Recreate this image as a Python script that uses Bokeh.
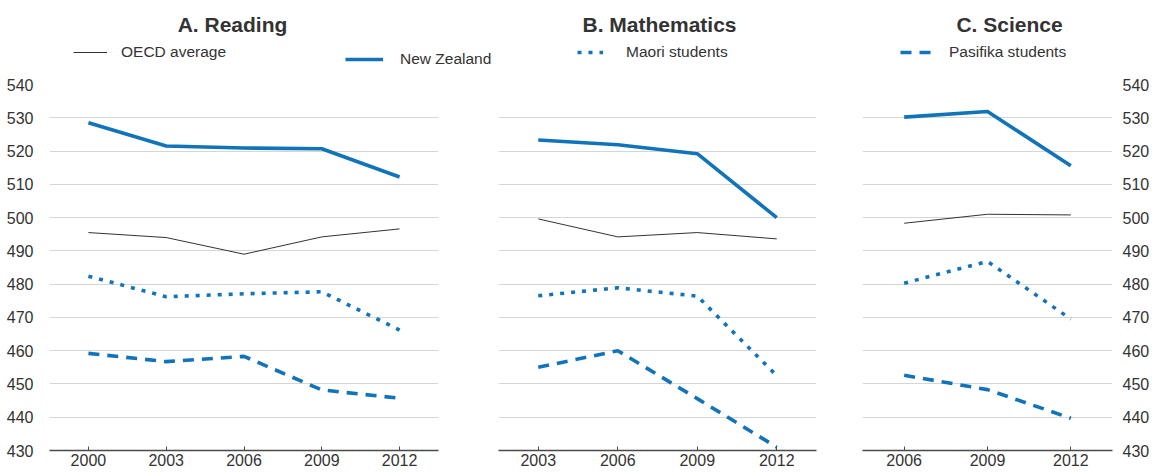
from bokeh.plotting import figure
from bokeh.layouts import row, column
from bokeh.models import Range1d, FixedTicker, Grid, Legend, LegendItem, Label
from bokeh.embed import file_html
from bokeh.resources import INLINE

# ---------------- data ----------------
titles = ["A. Reading", "B. Mathematics", "C. Science"]

years_reading = [2000, 2003, 2006, 2009, 2012]
oecd_reading = [495.5, 494.0, 489.0, 494.2, 496.6]
nz_reading = [528.5, 521.5, 520.9, 520.7, 512.2]
maori_reading = [482.4, 476.2, 477.1, 477.7, 466.2]
pasifika_reading = [459.2, 456.7, 458.3, 448.2, 445.7]

years_math = [2003, 2006, 2009, 2012]
oecd_math = [499.6, 494.2, 495.5, 493.6]
nz_math = [523.3, 521.9, 519.2, 500.0]
maori_math = [476.5, 478.9, 476.4, 452.5]
pasifika_math = [455.0, 460.0, 445.6, 431.0]

years_science = [2006, 2009, 2012]
oecd_science = [498.3, 501.0, 500.8]
nz_science = [530.2, 531.9, 515.6]
maori_science = [480.3, 486.8, 469.5]
pasifika_science = [452.6, 448.3, 439.7]

y_ticks = [430, 440, 450, 460, 470, 480, 490, 500, 510, 520, 530, 540]
legend_labels = ["OECD average", "New Zealand", "Maori students", "Pasifika students"]

# ---------------- style ----------------
FONT = "Liberation Sans"
BLUE = "#1174ba"
DARK = "#333333"
GRID = "#d6d6d6"
AXIS = "#4a4a4a"

STYLES = [
    dict(line_color=DARK, line_width=1),
    dict(line_color=BLUE, line_width=3.6, line_join="round"),
    dict(line_color=BLUE, line_width=3.6, line_dash="4 7", line_cap="butt"),
    dict(line_color=BLUE, line_width=3.6, line_dash="11 8", line_cap="butt"),
]

HEAD_H = 74
TOP, FH, BOTTOM = 10, 366, 22
TICK_FS = "16px"


def make_panel(years, series, left, fw, right, yloc):
    xr = Range1d(years[0] - 1.5, years[-1] + 1.5)
    p = figure(frame_width=fw, frame_height=FH, x_range=xr, y_range=Range1d(430, 540),
               output_backend="svg", toolbar_location=None,
               min_border_left=left, min_border_right=right,
               min_border_top=TOP, min_border_bottom=BOTTOM,
               y_axis_location=yloc, outline_line_color=None,
               background_fill_color="white", border_fill_color="white")
    for g in p.xgrid:
        g.visible = False
    for g in p.ygrid:
        g.visible = False
    p.add_layout(Grid(dimension=1, ticker=FixedTicker(ticks=y_ticks),
                      grid_line_color=GRID, grid_line_width=1.2), "center")

    xa = p.xaxis[0]
    xa.ticker = FixedTicker(ticks=years)
    xa.axis_line_color = AXIS
    xa.axis_line_width = 1.5
    xa.major_tick_in = 4
    xa.major_tick_out = 0
    xa.major_tick_line_color = AXIS
    xa.minor_tick_line_color = None
    xa.major_label_standoff = 3
    xa.major_label_text_font = FONT
    xa.major_label_text_font_size = TICK_FS
    xa.major_label_text_color = DARK

    if yloc is not None:
        ya = p.yaxis[0]
        ya.ticker = FixedTicker(ticks=y_ticks)
        ya.axis_line_color = None
        ya.major_tick_line_color = None
        ya.minor_tick_line_color = None
        ya.major_label_standoff = 10 if yloc == "left" else 4
        ya.major_label_text_font = FONT
        ya.major_label_text_font_size = TICK_FS
        ya.major_label_text_color = DARK

    for vals, st in zip(series, STYLES):
        p.line(years, vals, **st)
    return p


pA = make_panel(years_reading, (oecd_reading, nz_reading, maori_reading, pasifika_reading),
                49, 389, 55, "left")
pB = make_panel(years_math, (oecd_math, nz_math, maori_math, pasifika_math),
                5, 318, 24, None)
pC = make_panel(years_science, (oecd_science, nz_science, maori_science, pasifika_science),
                22, 250, 36, "right")

# ---------------- header: titles + legend ----------------
head = figure(frame_width=1148, frame_height=HEAD_H, x_range=Range1d(0, 1), y_range=Range1d(0, 1),
              output_backend="svg", toolbar_location=None, min_border=0,
              x_axis_location=None, y_axis_location=None, outline_line_color=None,
              background_fill_color="white", border_fill_color="white")
head.xgrid.visible = False
head.ygrid.visible = False

for t, cx in zip(titles, [232, 659, 1009]):
    head.add_layout(Label(x=cx, y=HEAD_H - 24, x_units="screen", y_units="screen",
                          text=t, text_font=FONT, text_font_size="21px",
                          text_font_style="bold", text_color=DARK,
                          text_align="center", text_baseline="middle"))

# legend keys: the reading series, drawn far outside this header's ranges (never visible)
key_series = [oecd_reading, nz_reading, maori_reading, pasifika_reading]
# (glyph left x, centre y, glyph width, label standoff) in page pixels
leg_pos = [(73, 52, 34, 14), (345, 58.5, 38, 17), (577, 52, 26, 23), (900, 52, 33, 16)]
for lab, st, vals, (lx, cy, gw, so) in zip(legend_labels, STYLES, key_series, leg_pos):
    r = head.line(years_reading, vals, **st)
    h = 18
    leg = Legend(items=[LegendItem(label=lab, renderers=[r])],
                 location=(lx, HEAD_H - (cy + h / 2)), padding=0, margin=0, spacing=0,
                 glyph_width=gw, glyph_height=h, label_height=h,
                 label_standoff=so,
                 label_text_font=FONT, label_text_font_size="15.5px",
                 label_text_color=DARK, border_line_color=None,
                 background_fill_alpha=0)
    head.add_layout(leg, "center")

layout = column(head, row(pA, pB, pC, spacing=0), spacing=0)
open("out.html", "w").write(file_html(layout, INLINE))
